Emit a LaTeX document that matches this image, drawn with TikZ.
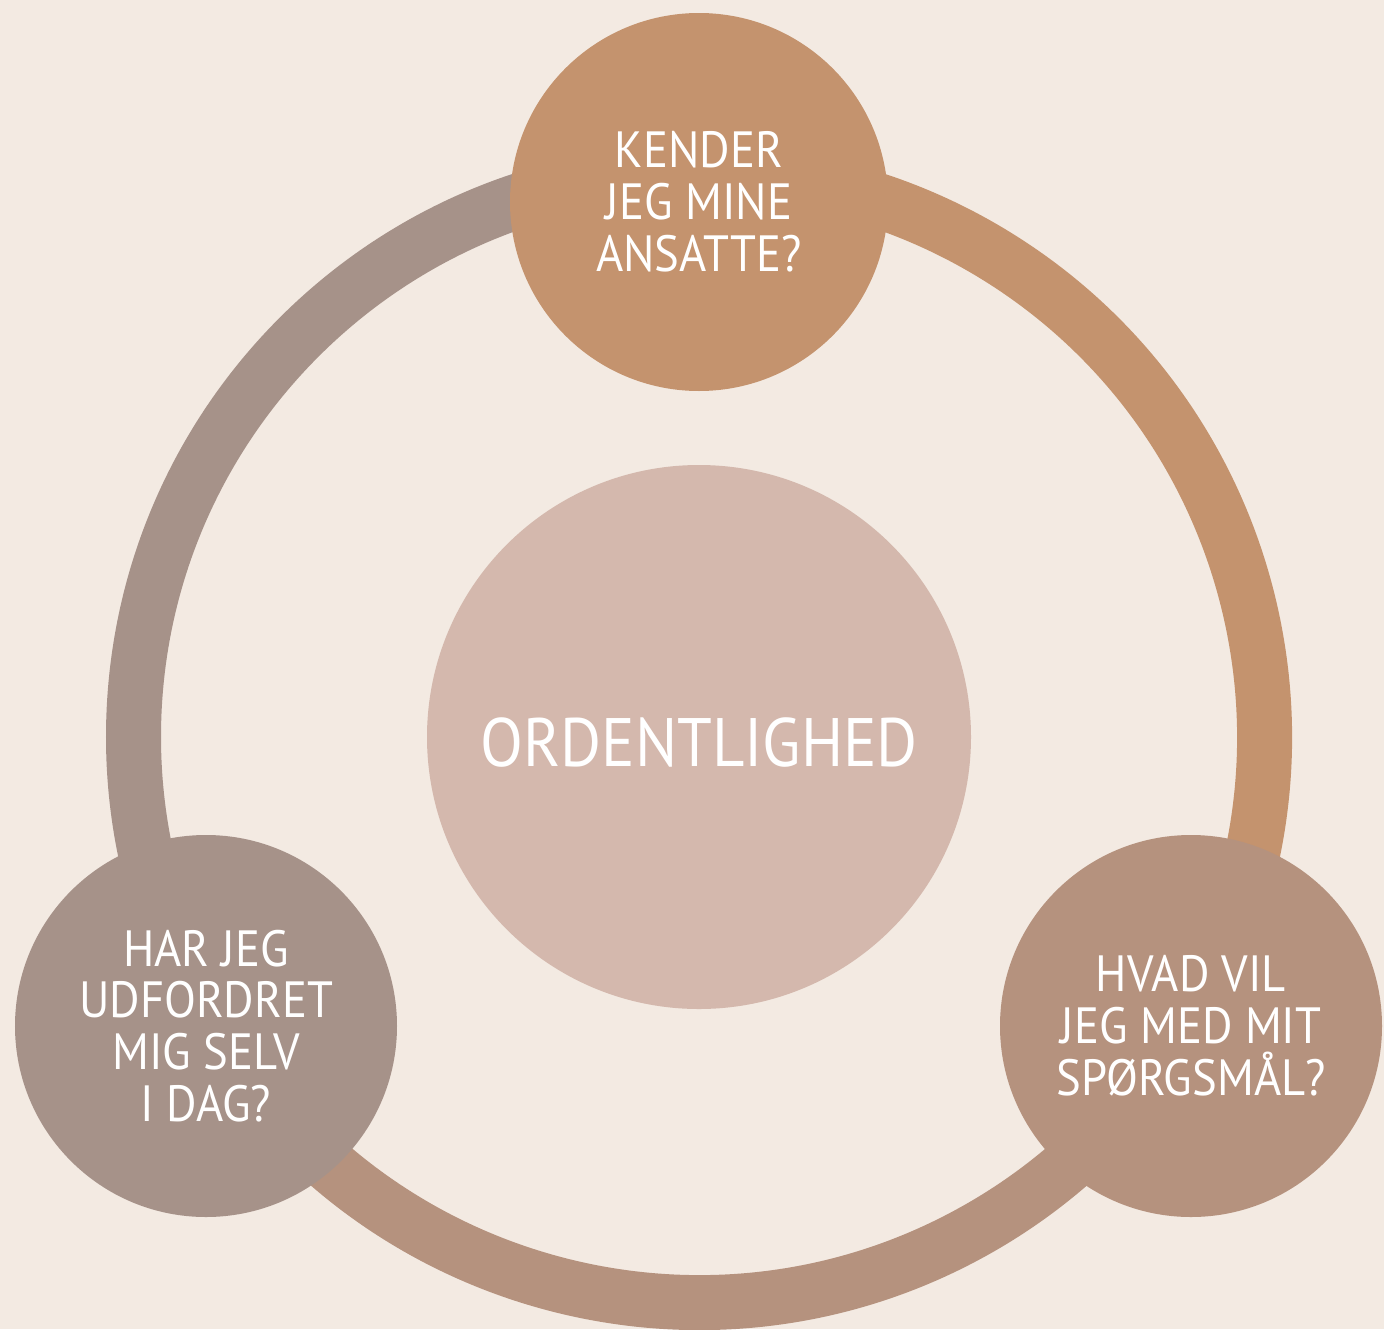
\documentclass[tikz,border=0pt]{standalone}
\usepackage{fontspec}
\setmainfont{PT Sans}[FakeStretch=0.915]
\definecolor{bg}{HTML}{F3EAE2}
\definecolor{ctan}{HTML}{C4936E}
\definecolor{cgray}{HTML}{A69289}
\definecolor{cbrown}{HTML}{B5927E}
\definecolor{cpink}{HTML}{D4B8AD}
\tikzset{
  ringarc/.style={line width=31.3pt},
  bubble/.style={circle, inner sep=0pt, align=center, text=white, font=\fontsize{29}{29.5}\selectfont},
}
\begin{document}
\begin{tikzpicture}
\fill[bg] (0,0) rectangle (27.68,-26.58);
\useasboundingbox (0,0) rectangle (27.68,-26.58);
\coordinate (c) at (13.98,-14.74);
\draw[ringarc, cgray] ([shift={(90:11.31)}]c) arc[start angle=90, end angle=210, radius=11.31];
\draw[ringarc, ctan] ([shift={(-30:11.31)}]c) arc[start angle=-30, end angle=90, radius=11.31];
\draw[ringarc, cbrown] ([shift={(210:11.31)}]c) arc[start angle=210, end angle=330, radius=11.31];
\node[circle, inner sep=0pt, fill=cpink, minimum size=10.88cm] (mid) at (c) {};
\node[text=white, font=\fontsize{39}{40}\selectfont] (midtext) at ([yshift=-0.12cm]mid.center) {ORDENTLIGHED};
\node[bubble, fill=ctan, minimum size=7.56cm] (top) at (13.98,-4.04) {KENDER\\JEG MINE\\ANSATTE?};
\node[bubble, fill=cgray, minimum size=7.64cm] (bl) at (4.12,-20.52) {HAR JEG\\UDFORDRET\\MIG SELV\\I DAG?};
\node[bubble, fill=cbrown, minimum size=7.64cm] (br) at (23.82,-20.52) {HVAD VIL\\JEG MED MIT\\SPØRGSMÅL?};
\end{tikzpicture}
\end{document}
